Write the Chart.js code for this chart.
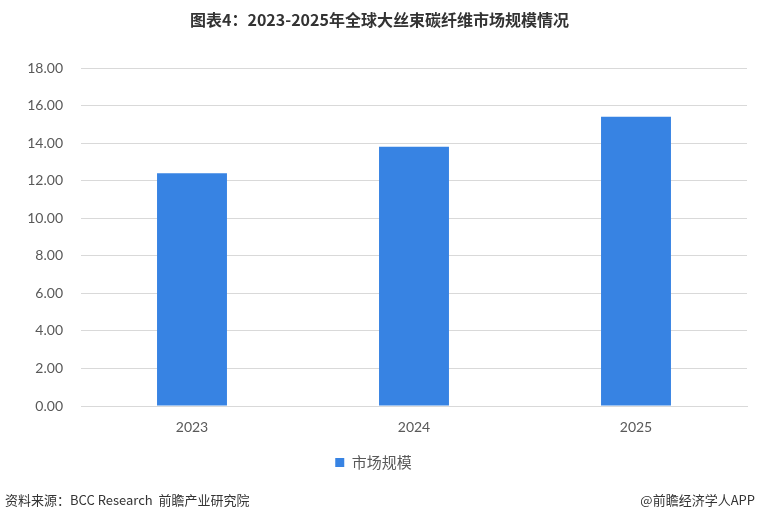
<!DOCTYPE html>
<html>
<head>
<meta charset="utf-8">
<script src="https://cdn.jsdelivr.net/npm/chart.js@4"></script>
<style>
  html, body { margin: 0; padding: 0; background: #fff; }
  #wrap { position: relative; width: 759px; height: 522px; }
  #title { position: absolute; top: 7px; left: 0; width: 759px; text-align: center;
    font: bold 16px "Noto Sans CJK SC", sans-serif; color: #333; }
  .foot { position: absolute; top: 490px; font: 13px "Noto Sans CJK SC", sans-serif; color: #333; }
</style>
</head>
<body>
<div id="wrap">
  <canvas id="c" width="759" height="522"></canvas>
  <div id="title">图表4：2023-2025年全球大丝束碳纤维市场规模情况</div>
  <div class="foot" style="left:5px;">资料来源：BCC Research&nbsp;&nbsp;前瞻产业研究院</div>
  <div class="foot" style="right:4px;">@前瞻经济学人APP</div>
</div>
<script>
// data
const years = ['2023', '2024', '2025'];
const marketSize = [12.4, 13.8, 15.4];
const seriesName = '市场规模';

new Chart(document.getElementById('c').getContext('2d'), {
  type: 'bar',
  data: {
    labels: years,
    datasets: [{
      label: seriesName,
      data: marketSize,
      backgroundColor: '#3783E3',
      categoryPercentage: 1,
      barPercentage: 0.315
    }]
  },
  options: {
    responsive: false,
    animation: false,
    layout: { padding: { top: 68, right: 12, bottom: 42, left: 0 } },
    plugins: {
      legend: {
        position: 'bottom',
        labels: {
          usePointStyle: true, pointStyle: 'rect', boxWidth: 9, boxHeight: 9,
          color: '#595959', font: { family: 'Noto Sans CJK SC', size: 15 }, padding: 10
        }
      },
      tooltip: { enabled: false }
    },
    scales: {
      x: {
        grid: { display: false },
        border: { color: '#d9d9d9' },
        ticks: { color: '#595959', font: { family: 'Lato', size: 14 }, padding: 5 },
        afterFit: s => { s.height = 39; }
      },
      y: {
        min: 0, max: 18,
        ticks: {
          stepSize: 2, color: '#595959', font: { family: 'Lato', size: 14 }, padding: 18,
          callback: v => v.toFixed(2)
        },
        grid: { color: '#d9d9d9', drawTicks: false },
        border: { display: false },
        afterFit: s => { s.width = 81; }
      }
    }
  }
});
</script>
</body>
</html>
